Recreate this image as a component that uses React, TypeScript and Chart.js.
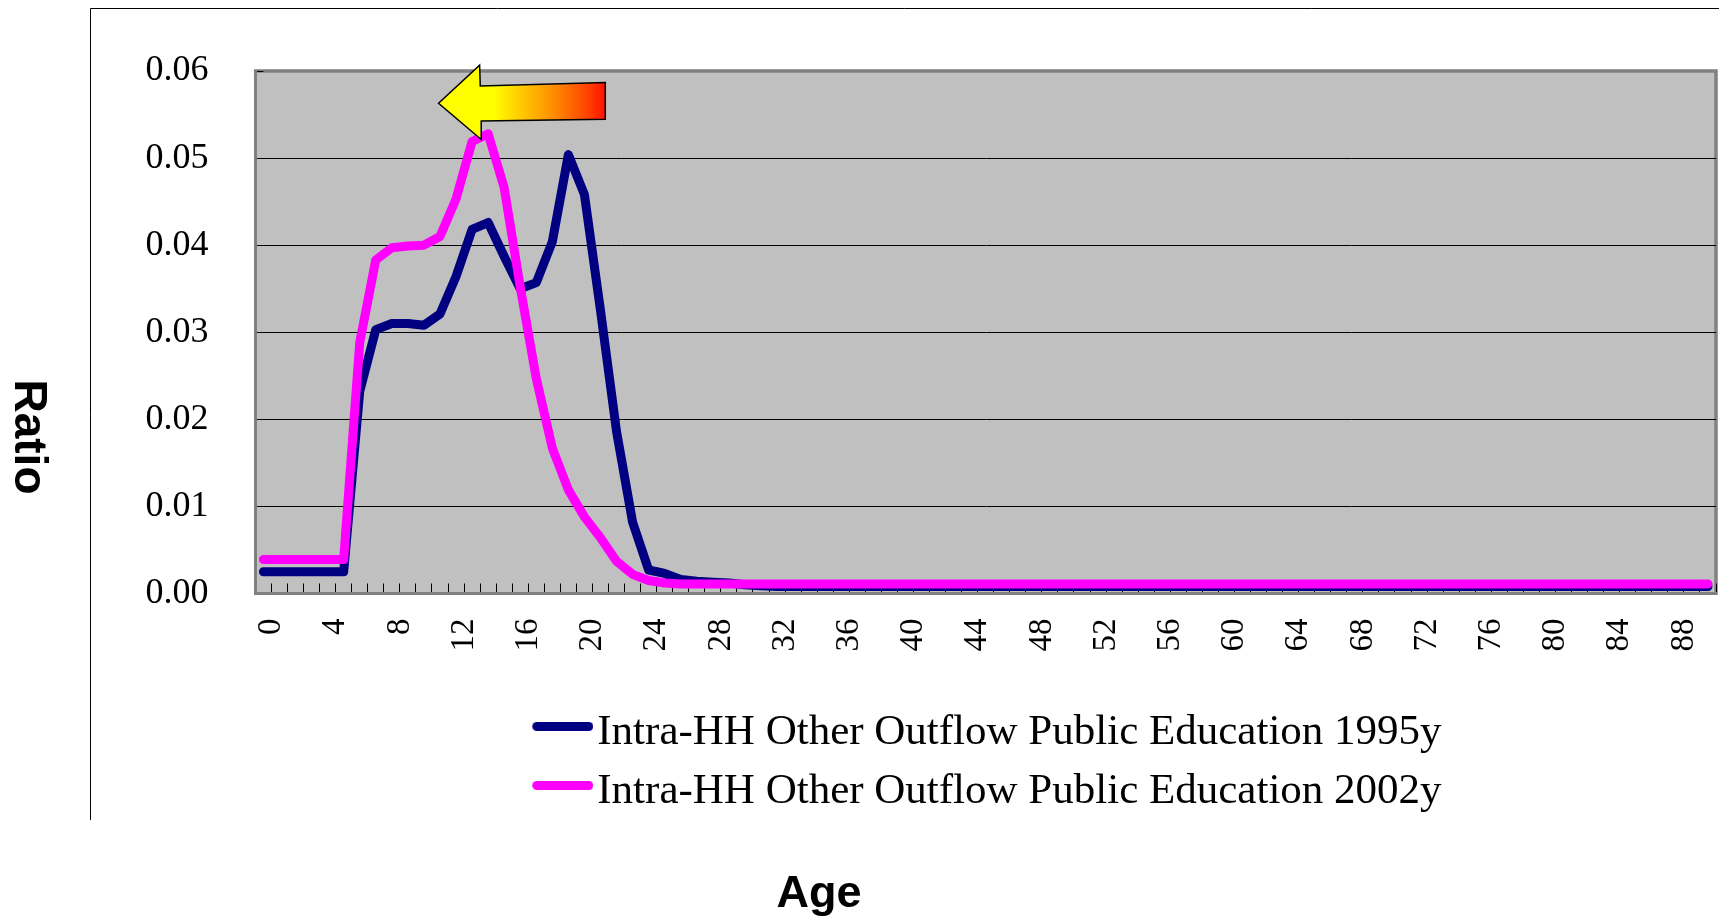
import React, { useEffect, useRef } from "react";
import { Chart, registerables } from "chart.js";

Chart.register(...registerables);

// ---- data ----
const AGES: string[] = Array.from({ length: 91 }, (_, i) => String(i));
const LABEL_STEP = 4;

const SERIES_1995_LABEL = "Intra-HH Other Outflow Public Education 1995y";
const SERIES_2002_LABEL = "Intra-HH Other Outflow Public Education 2002y";

const series1995: number[] = [
  0.0025, 0.0025, 0.0025, 0.0025, 0.0025, 0.0025, 0.0232, 0.0303, 0.031, 0.031,
  0.0308, 0.0321, 0.0364, 0.0418, 0.0426, 0.0387, 0.035, 0.0357, 0.0404, 0.0504,
  0.0458, 0.0325, 0.0186, 0.0082, 0.0027, 0.0023, 0.0016, 0.0014, 0.0013, 0.0012,
  0.001, 0.0009, 0.0008, 0.0008, 0.0008, 0.0008, 0.0008, 0.0008, 0.0008, 0.0008,
  0.0008, 0.0008, 0.0008, 0.0008, 0.0008, 0.0008, 0.0008, 0.0008, 0.0008, 0.0008,
  0.0008, 0.0008, 0.0008, 0.0008, 0.0008, 0.0008, 0.0008, 0.0008, 0.0008, 0.0008,
  0.0008, 0.0008, 0.0008, 0.0008, 0.0008, 0.0008, 0.0008, 0.0008, 0.0008, 0.0008,
  0.0008, 0.0008, 0.0008, 0.0008, 0.0008, 0.0008, 0.0008, 0.0008, 0.0008, 0.0008,
  0.0008, 0.0008, 0.0008, 0.0008, 0.0008, 0.0008, 0.0008, 0.0008, 0.0008, 0.0008,
  0.0008,
];

const series2002: number[] = [
  0.0039, 0.0039, 0.0039, 0.0039, 0.0039, 0.0039, 0.0288, 0.0383, 0.0397, 0.0399,
  0.04, 0.041, 0.0453, 0.0519, 0.0528, 0.0466, 0.0352, 0.0247, 0.0167, 0.0119,
  0.0088, 0.0064, 0.0037, 0.0022, 0.0015, 0.0012, 0.0011, 0.0011, 0.0011, 0.0011,
  0.0011, 0.0011, 0.0011, 0.0011, 0.0011, 0.0011, 0.0011, 0.0011, 0.0011, 0.0011,
  0.0011, 0.0011, 0.0011, 0.0011, 0.0011, 0.0011, 0.0011, 0.0011, 0.0011, 0.0011,
  0.0011, 0.0011, 0.0011, 0.0011, 0.0011, 0.0011, 0.0011, 0.0011, 0.0011, 0.0011,
  0.0011, 0.0011, 0.0011, 0.0011, 0.0011, 0.0011, 0.0011, 0.0011, 0.0011, 0.0011,
  0.0011, 0.0011, 0.0011, 0.0011, 0.0011, 0.0011, 0.0011, 0.0011, 0.0011, 0.0011,
  0.0011, 0.0011, 0.0011, 0.0011, 0.0011, 0.0011, 0.0011, 0.0011, 0.0011, 0.0011,
  0.0011,
];

const Y_MIN = 0;
const Y_MAX = 0.06;
const Y_STEP = 0.01;

// annotation arrow, in data units: [category index, value]
const ARROW_POINTS: [number, number][] = [
  [10.91, 0.05629],
  [13.47, 0.06066],
  [13.51, 0.05828],
  [21.3, 0.05867],
  [21.3, 0.05446],
  [13.57, 0.05426],
  [13.57, 0.05214],
];

const X_TITLE = "Age";
const Y_TITLE = "Ratio";

// ---- styles ----
const NAVY = "#000080";
const PINK = "#FF00FF";
const PLOT_BG = "#C0C0C0";
const AXIS_GRAY = "#808080";
const SERIF = '"Liberation Serif", "Times New Roman", serif';
const SANS = '"Liberation Sans", Arial, sans-serif';

function makeSwatch(color: string): HTMLCanvasElement {
  const c = document.createElement("canvas");
  c.width = 81;
  c.height = 24;
  const g = c.getContext("2d")!;
  g.strokeStyle = color;
  g.lineWidth = 9;
  g.lineCap = "round";
  g.beginPath();
  g.moveTo(24.5, 5.5);
  g.lineTo(76.5, 5.5);
  g.stroke();
  return c;
}

const decorPlugin = {
  id: "decor",
  beforeDraw(chart: any) {
    const { ctx, chartArea: a } = chart;
    ctx.save();
    ctx.fillStyle = "#ffffff";
    ctx.fillRect(0, 0, chart.width, chart.height);
    ctx.fillStyle = PLOT_BG;
    ctx.fillRect(a.left, a.top, a.right - a.left, a.bottom - a.top);
    // outer frame
    ctx.strokeStyle = "#000";
    ctx.lineWidth = 1;
    ctx.beginPath();
    ctx.moveTo(90.5, 820);
    ctx.lineTo(90.5, 8.5);
    ctx.lineTo(chart.width, 8.5);
    ctx.stroke();
    // top & right plot border
    ctx.strokeStyle = AXIS_GRAY;
    ctx.lineWidth = 3.5;
    ctx.beginPath();
    ctx.moveTo(a.left - 1.5, a.top);
    ctx.lineTo(a.right, a.top);
    ctx.lineTo(a.right, a.bottom + 1.5);
    ctx.stroke();
    ctx.restore();
  },
  afterDatasetsDraw(chart: any) {
    const { ctx } = chart;
    const xs = chart.scales.x;
    const ys = chart.scales.y;
    const pts = ARROW_POINTS.map(([c, v]) => [xs.getPixelForValue(c), ys.getPixelForValue(v)]);
    const x0 = pts[0][0];
    const x1 = pts[3][0];
    const grad = ctx.createLinearGradient(x0, 0, x1, 0);
    grad.addColorStop(0, "#FFFF00");
    grad.addColorStop(0.33, "#FFFF00");
    grad.addColorStop(0.49, "#FFCC00");
    grad.addColorStop(0.69, "#FF8C00");
    grad.addColorStop(0.89, "#FF4400");
    grad.addColorStop(1, "#FF1000");
    ctx.save();
    ctx.beginPath();
    pts.forEach(([x, y], i) => (i === 0 ? ctx.moveTo(x, y) : ctx.lineTo(x, y)));
    ctx.closePath();
    ctx.fillStyle = grad;
    ctx.fill();
    ctx.strokeStyle = "#000";
    ctx.lineWidth = 1.5;
    ctx.lineJoin = "miter";
    ctx.stroke();
    ctx.restore();
  },
  afterDraw(chart: any) {
    const { ctx } = chart;
    ctx.save();
    ctx.fillStyle = "#000";
    ctx.font = `bold 46px ${SANS}`;
    ctx.textAlign = "center";
    ctx.textBaseline = "middle";
    ctx.translate(27.5, 437);
    ctx.rotate(Math.PI / 2);
    ctx.fillText(Y_TITLE, 0, 0);
    ctx.restore();

    ctx.save();
    ctx.fillStyle = "#000";
    ctx.font = `bold 45px ${SANS}`;
    ctx.textAlign = "center";
    ctx.textBaseline = "alphabetic";
    ctx.fillText(X_TITLE, 819, 907);
    ctx.restore();
  },
};

export default function App() {
  const ref = useRef<HTMLCanvasElement | null>(null);

  useEffect(() => {
    if (!ref.current) return;
    const swatches = [makeSwatch(NAVY), makeSwatch(PINK)];
    const chart = new Chart(ref.current, {
      type: "line",
      data: {
        labels: AGES,
        datasets: [
          {
            label: SERIES_1995_LABEL,
            data: series1995,
            borderColor: NAVY,
            backgroundColor: NAVY,
            borderWidth: 9,
            pointRadius: 0,
            pointHoverRadius: 0,
            tension: 0,
            fill: false,
            borderJoinStyle: "round",
            borderCapStyle: "round",
            order: 1,
          },
          {
            label: SERIES_2002_LABEL,
            data: series2002,
            borderColor: PINK,
            backgroundColor: PINK,
            borderWidth: 9,
            pointRadius: 0,
            pointHoverRadius: 0,
            tension: 0,
            fill: false,
            borderJoinStyle: "round",
            borderCapStyle: "round",
            order: 0,
          },
        ],
      },
      options: {
        responsive: false,
        animation: false,
        events: [],
        layout: { padding: { left: 90, top: 71, right: 3, bottom: 93.5 } },
        scales: {
          x: {
            type: "category",
            offset: true,
            grid: {
              offset: true,
              drawOnChartArea: false,
              drawTicks: true,
              tickLength: -10,
              color: "#000",
              lineWidth: 1,
            },
            border: { display: true, color: AXIS_GRAY, width: 3 },
            ticks: {
              autoSkip: false,
              maxRotation: 90,
              minRotation: 90,
              padding: 35,
              labelOffset: 8,
              color: "#000",
              font: { family: SERIF, size: 33 },
              callback: (_v: any, i: number) => (i % LABEL_STEP === 0 ? AGES[i] : ""),
            },
            afterFit: (s: any) => {
              s.height = 102;
              s.paddingLeft = 0;
              s.paddingRight = 0;
            },
          },
          y: {
            min: Y_MIN,
            max: Y_MAX,
            ticks: {
              stepSize: Y_STEP,
              padding: 55,
              color: "#000",
              font: { family: SERIF, size: 36 },
              callback: (v: any) => Number(v).toFixed(2),
            },
            grid: {
              color: (c: any) =>
                c.tick && (c.tick.value >= Y_MAX - 1e-6 || c.tick.value <= Y_MIN + 1e-6)
                  ? "rgba(0,0,0,0)"
                  : "#000",
              tickColor: (c: any) =>
                c.tick && c.tick.value <= Y_MIN + 1e-6 ? "rgba(0,0,0,0)" : "#000",
              tickLength: -8,
              lineWidth: 1,
            },
            border: { display: true, color: AXIS_GRAY, width: 3 },
            afterFit: (s: any) => {
              s.width = 165.4;
              s.paddingTop = 0;
              s.paddingBottom = 0;
            },
          },
        },
        plugins: {
          tooltip: { enabled: false },
          title: { display: false },
          legend: {
            display: true,
            position: "bottom",
            fullSize: false,
            align: "center",
            labels: {
              usePointStyle: true,
              pointStyleWidth: 46,
              boxHeight: 10,
              padding: 16,
              color: "#000",
              font: { family: SERIF, size: 43 },
              generateLabels: (ch: any) =>
                ch.data.datasets.map((ds: any, i: number) => ({
                  text: ds.label,
                  fillStyle: ds.borderColor,
                  strokeStyle: ds.borderColor,
                  lineWidth: 0,
                  pointStyle: swatches[i],
                  hidden: false,
                  datasetIndex: i,
                  fontColor: "#000",
                })),
            },
          },
        },
      } as any,
      plugins: [decorPlugin],
    });
    return () => chart.destroy();
  }, []);

  return (
    <div style={{ position: "absolute", left: 0, top: 0, width: 1719, height: 917, overflow: "hidden" }}>
      <canvas ref={ref} width={1719} height={917} style={{ display: "block" }} />
    </div>
  );
}
